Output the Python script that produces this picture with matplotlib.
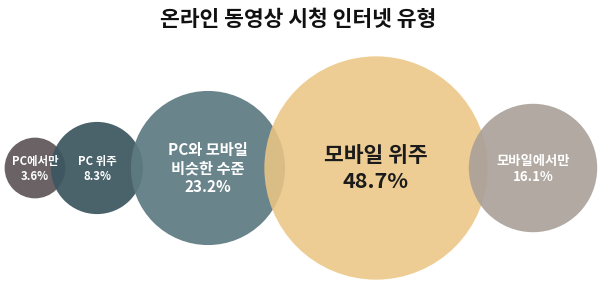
import numpy as np
import matplotlib
matplotlib.use("Agg")
import matplotlib.pyplot as plt
from matplotlib.patches import Circle

plt.rcParams['font.family'] = ['Noto Sans CJK KR', 'DejaVu Sans']

# data
title = "온라인 동영상 시청 인터넷 유형"
categories = ["PC에서만", "PC 위주", "PC와 모바일\n비슷한 수준", "모바일 위주", "모바일에서만"]
shares = [3.6, 8.3, 23.2, 48.7, 16.1]

# layout / style (pixel units, y grows downward)
centers_x = [35, 97, 208, 376, 533]
center_y = 168
radius_scale = 16.0  # radius = scale * sqrt(share)
colors = ["#6a6264", "#3c5760", "#5f7b82", "#ecc684", "#a9a098"]
alphas = [1.0, 0.93, 0.93, 0.87, 0.9]
text_colors = ["white", "white", "white", "#1b1b1b", "white"]
font_sizes = [8.2, 8.2, 11, 15.5, 9.6]
line_gaps = [15, 15, 18.5, 26, 16]

fig = plt.figure(figsize=(6.0, 2.95), dpi=100)
ax = fig.add_axes([0, 0, 1, 1])
ax.set_xlim(0, 600)
ax.set_ylim(295, 0)
ax.set_aspect('equal')
ax.axis('off')

for i, (cat, val) in enumerate(zip(categories, shares)):
    r = radius_scale * np.sqrt(val)
    ax.add_patch(Circle((centers_x[i], center_y), r, facecolor=colors[i],
                        edgecolor='none', alpha=alphas[i], zorder=i + 1))
    lines = cat.split("\n") + [f"{val}%"]
    n = len(lines)
    for j, line in enumerate(lines):
        y = center_y + 1 + (j - (n - 1) / 2) * line_gaps[i]
        ax.text(centers_x[i], y, line, ha='center', va='center',
                fontsize=font_sizes[i], color=text_colors[i],
                fontweight='bold', zorder=10)

ax.text(298, 20, title, ha='center', va='center', fontsize=15.5,
        fontweight='bold', color='#111111')

fig.savefig("out.png", dpi=100)
